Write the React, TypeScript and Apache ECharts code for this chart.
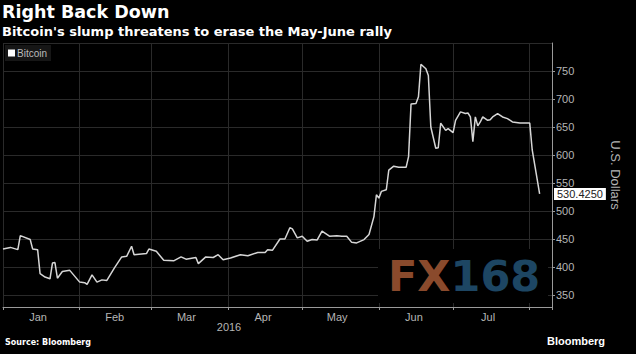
import React, { useEffect, useRef } from "react";
import * as echarts from "echarts";

const dates = [
  "2016-01-01", "2016-01-04", "2016-01-07", "2016-01-08", "2016-01-12", "2016-01-13", "2016-01-15", "2016-01-16",
  "2016-01-18", "2016-01-20", "2016-01-21", "2016-01-22", "2016-01-23", "2016-01-25", "2016-01-28", "2016-02-01",
  "2016-02-03", "2016-02-04", "2016-02-06", "2016-02-08", "2016-02-10", "2016-02-12", "2016-02-15", "2016-02-18",
  "2016-02-20", "2016-02-22", "2016-02-23", "2016-02-28", "2016-02-29", "2016-03-03", "2016-03-06", "2016-03-10",
  "2016-03-13", "2016-03-15", "2016-03-19", "2016-03-20", "2016-03-23", "2016-03-26", "2016-03-28", "2016-03-30",
  "2016-04-02", "2016-04-06", "2016-04-09", "2016-04-13", "2016-04-16", "2016-04-17", "2016-04-19", "2016-04-22",
  "2016-04-24", "2016-04-26", "2016-04-27", "2016-04-29", "2016-05-01", "2016-05-03", "2016-05-05", "2016-05-07",
  "2016-05-09", "2016-05-12", "2016-05-15", "2016-05-17", "2016-05-19", "2016-05-21", "2016-05-23", "2016-05-26",
  "2016-05-28", "2016-05-30", "2016-05-31", "2016-06-01", "2016-06-02", "2016-06-04", "2016-06-05", "2016-06-07",
  "2016-06-09", "2016-06-12", "2016-06-13", "2016-06-14", "2016-06-16", "2016-06-17", "2016-06-18", "2016-06-20",
  "2016-06-21", "2016-06-22", "2016-06-24", "2016-06-25", "2016-06-26", "2016-06-28", "2016-06-29", "2016-07-01",
  "2016-07-02", "2016-07-04", "2016-07-06", "2016-07-07", "2016-07-08", "2016-07-09", "2016-07-10", "2016-07-11",
  "2016-07-12", "2016-07-13", "2016-07-15", "2016-07-16", "2016-07-17", "2016-07-19", "2016-07-21", "2016-07-23",
  "2016-07-25", "2016-07-28", "2016-08-01", "2016-08-02", "2016-08-05",
];

const prices = [
  432, 435, 431, 456, 449, 432, 431, 388,
  382, 379, 407, 408, 380, 392, 394, 373,
  372, 369, 386, 373, 377, 376, 398, 418,
  419, 437, 422, 424, 432, 428, 412, 411,
  418, 414, 417, 406, 418, 417, 422, 413,
  416, 422, 420, 426, 426, 431, 430, 450,
  450, 470, 468, 452, 455, 446, 449, 448,
  464, 455, 456, 455, 455, 444, 443, 449,
  458, 490, 529, 523, 535, 538, 573, 580,
  578, 578, 597, 691, 692, 704, 762, 754,
  742, 650, 612, 613, 657, 644, 647, 640,
  662, 677, 674, 675, 668, 624, 668, 652,
  659, 668, 662, 663, 668, 674, 668, 665,
  659, 657, 657, 609, 530.425,
];

const monthLabels = ["Jan", "Feb", "Mar", "Apr", "May", "Jun", "Jul"];
const lastValueLabel = "530.4250";
const yearLabel = "2016";

const FONT = "'Liberation Sans', Arial, sans-serif";
const BOLD_FONT = "'DejaVu Sans', sans-serif";

export default function App() {
  const ref = useRef<HTMLDivElement>(null);

  useEffect(() => {
    if (!ref.current) return;
    const chart = echarts.init(ref.current, undefined, { renderer: "svg" });
    const seriesData = dates.map((d, i) => [d, prices[i]]);

    chart.setOption({
      animation: false,
      backgroundColor: "#000",
      title: {
        text: "Right Back Down",
        subtext: "Bitcoin's slump threatens to erase the May-June rally",
        left: 2,
        top: 3,
        padding: 0,
        itemGap: 4,
        textStyle: { color: "#fff", fontFamily: BOLD_FONT, fontWeight: "bold", fontSize: 17.5 },
        subtextStyle: { color: "#fff", fontFamily: BOLD_FONT, fontWeight: "bold", fontSize: 13 },
      },
      legend: {
        data: ["Bitcoin"],
        left: 5,
        top: 45,
        padding: [3, 4, 3, 3],
        icon: "rect",
        itemWidth: 7,
        itemHeight: 7,
        itemGap: 4,
        backgroundColor: "#161616",
        textStyle: { color: "#bbb", fontSize: 10, fontFamily: FONT, padding: [0, 0, 0, -3] },
      },
      grid: {
        left: 3,
        right: 84,
        top: 43,
        bottom: 47,
        outerBoundsMode: "none",
        containLabel: false,
      },
      xAxis: {
        type: "time",
        min: "2016-01-01",
        max: "2016-08-10",
        splitNumber: 8,
        minInterval: 28 * 86400000,
        maxInterval: 31 * 86400000,
        axisLine: { show: true, lineStyle: { color: "#9a9a9a", width: 1 } },
        axisTick: { show: true, length: 3, lineStyle: { color: "#9a9a9a" } },
        splitLine: { show: true, lineStyle: { color: "#2a2a2a", width: 1 } },
        axisLabel: {
          interval: 0,
          hideOverlap: false,
          showMinLabel: true,
          showMaxLabel: true,
          margin: 4,
          formatter: (value: number) => {
            const d = new Date(value);
            if (d.getDate() !== 1) return "";
            const m = d.getMonth();
            if (m >= monthLabels.length) return "";
            return "{m|" + monthLabels[m] + "}";
          },
          rich: {
            m: { color: "#b5b5b5", fontSize: 11, fontFamily: FONT, padding: [0, 0, 0, 70] },
          },
        },
      },
      yAxis: {
        type: "value",
        position: "right",
        min: 328.57,
        max: 800,
        splitNumber: 9,
        axisLine: { show: true, lineStyle: { color: "#9a9a9a", width: 1 } },
        axisTick: { show: true, length: 3, lineStyle: { color: "#9a9a9a" } },
        splitLine: { show: true, lineStyle: { color: "#2a2a2a", width: 1 } },
        axisLabel: {
          color: "#b5b5b5",
          fontSize: 11,
          fontFamily: FONT,
          margin: 4,
          showMinLabel: false,
          showMaxLabel: false,
        },
        name: "U.S. Dollars",
        nameLocation: "middle",
        nameRotate: -90,
        nameGap: 57,
        nameTextStyle: { color: "#b5b5b5", fontSize: 13, fontFamily: FONT },
      },
      series: [
        {
          name: "Bitcoin",
          type: "line",
          data: seriesData,
          showSymbol: false,
          symbol: "none",
          itemStyle: { color: "#ffffff" },
          lineStyle: { color: "#d6d6d6", width: 1.5 },
          z: 5,
          markLine: {
            silent: true,
            symbol: ["none", "none"],
            lineStyle: { color: "transparent", width: 0, type: "solid" },
            data: [{ yAxis: prices[prices.length - 1] }],
            label: {
              show: true,
              position: "end",
              distance: 2,
              formatter: lastValueLabel,
              backgroundColor: "#ffffff",
              color: "#222",
              fontSize: 11,
              fontFamily: FONT,
              padding: [1, 3, 0, 3],
            },
          },
        },
      ],
      graphic: [
        {
          type: "rect",
          shape: { x: 378, y: 249, width: 170, height: 54 },
          style: { fill: "#000" },
          z: 1,
        },
        {
          type: "text",
          x: 388,
          y: 254,
          z: 2,
          style: {
            text: "{a|FX}{b|168}",
            rich: {
              a: { fill: "#8a4a2c", fontSize: 43, fontWeight: "bold", fontFamily: "'DejaVu Sans', sans-serif" },
              b: { fill: "#1d4663", fontSize: 43, fontWeight: "bold", fontFamily: "'DejaVu Sans', sans-serif" },
            },
          },
        },
        {
          type: "text",
          x: 229,
          y: 327,
          style: {
            text: yearLabel,
            fill: "#b5b5b5",
            fontSize: 11,
            fontFamily: FONT,
            align: "center",
            verticalAlign: "middle",
          },
        },
        {
          type: "text",
          x: 5,
          y: 342,
          style: {
            text: "Source: Bloomberg",
            fill: "#fff",
            fontSize: 8,
            fontWeight: "bold",
            fontFamily: BOLD_FONT,
            verticalAlign: "middle",
          },
        },
        {
          type: "text",
          x: 547,
          y: 341,
          style: {
            text: "Bloomberg",
            fill: "#fff",
            fontSize: 11,
            fontWeight: "bold",
            fontFamily: FONT,
            verticalAlign: "middle",
          },
        },
      ],
    });

    return () => chart.dispose();
  }, []);

  return <div ref={ref} style={{ width: 636, height: 354, position: "absolute", left: 0, top: 0 }} />;
}
